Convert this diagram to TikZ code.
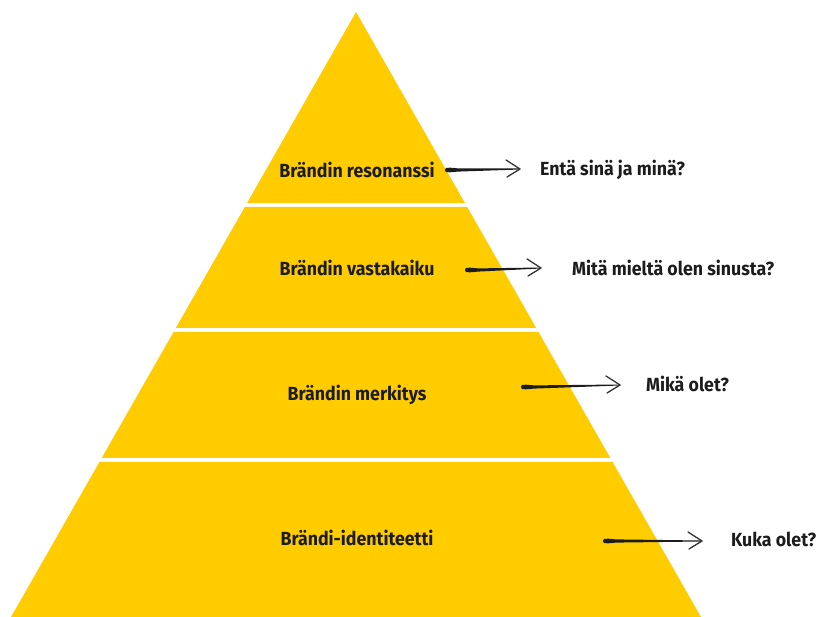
\documentclass[tikz,border=0pt]{standalone}
\usepackage{fontspec}
\setmainfont{Fira Sans}[FakeStretch=0.935]
\definecolor{pyr}{RGB}{255,204,0}
\definecolor{ink}{RGB}{28,28,28}
\begin{document}
\begin{tikzpicture}[x=1pt,y=-1pt,
  band/.style={fill=pyr,draw=none},
  lvl/.style={font=\fontsize{19}{22}\selectfont\bfseries,text=ink,inner sep=0pt,anchor=center},
  qst/.style={font=\fontsize{19}{22}\selectfont\bfseries,text=ink,inner sep=0pt,anchor=west},
  head/.style={draw=ink!90,line width=1.3pt,line cap=round,line join=round}]
\useasboundingbox (0,0) rectangle (817,617);
% pyramid bands: apex (356,12), base y=617 x 11..701, slope 0.57
\def\sl{0.5702}
\fill[band] (356,12) -- ({356+\sl*(203-12)},203) -- ({356-\sl*(203-12)},203) -- cycle;
\fill[band] ({356-\sl*(207-12)},207) -- ({356+\sl*(207-12)},207) -- ({356+\sl*(328-12)},328) -- ({356-\sl*(328-12)},328) -- cycle;
\fill[band] ({356-\sl*(332-12)},332) -- ({356+\sl*(332-12)},332) -- ({356+\sl*(458-12)},458) -- ({356-\sl*(458-12)},458) -- cycle;
\fill[band] ({356-\sl*(462-12)},462) -- ({356+\sl*(462-12)},462) -- ({356+\sl*(617-12)},617) -- ({356-\sl*(617-12)},617) -- cycle;
% level labels
\node[lvl] (l1) at (357,170) {Brändin resonanssi};
\node[lvl] (l2) at (357,268) {Brändin vastakaiku};
\node[lvl] (l3) at (357,395) {Brändin merkitys};
\node[lvl] (l4) at (357,538) {Brändi-identiteetti};
% question labels
\node[qst] (q1) at (540,170) {Entä sinä ja minä?};
\node[qst] (q2) at (572,268) {Mitä mieltä olen sinusta?};
\node[qst] (q3) at (646,384) {Mikä olet?};
\node[qst] (q4) at (731,539) {Kuka olet?};
% arrow coordinates
\coordinate (a1s) at (446,170); \coordinate (a1e) at (520,169);
\coordinate (a2s) at (466,270); \coordinate (a2e) at (541,268);
\coordinate (a3s) at (522,387); \coordinate (a3e) at (620,385);
\coordinate (a4s) at (604,541); \coordinate (a4e) at (702,541);
% tapered shafts
\foreach \s/\e in {a1s/a1e,a2s/a2e,a3s/a3e,a4s/a4e}{
  \fill[ink] ([yshift=-2.2]\s) .. controls ([xshift=4,yshift=-2.4]\s) .. ([xshift=12,yshift=-1.6]\s)
    -- ([yshift=-0.5]\e) -- ([yshift=0.5]\e) -- ([xshift=12,yshift=1.6]\s)
    .. controls ([xshift=4,yshift=2.4]\s) .. ([yshift=2.2]\s)
    .. controls ([xshift=-1.5]\s) .. cycle;
  \draw[head] ([xshift=-13,yshift=-8]\e) -- (\e) -- ([xshift=-14,yshift=9]\e);
}
\end{tikzpicture}
\end{document}
